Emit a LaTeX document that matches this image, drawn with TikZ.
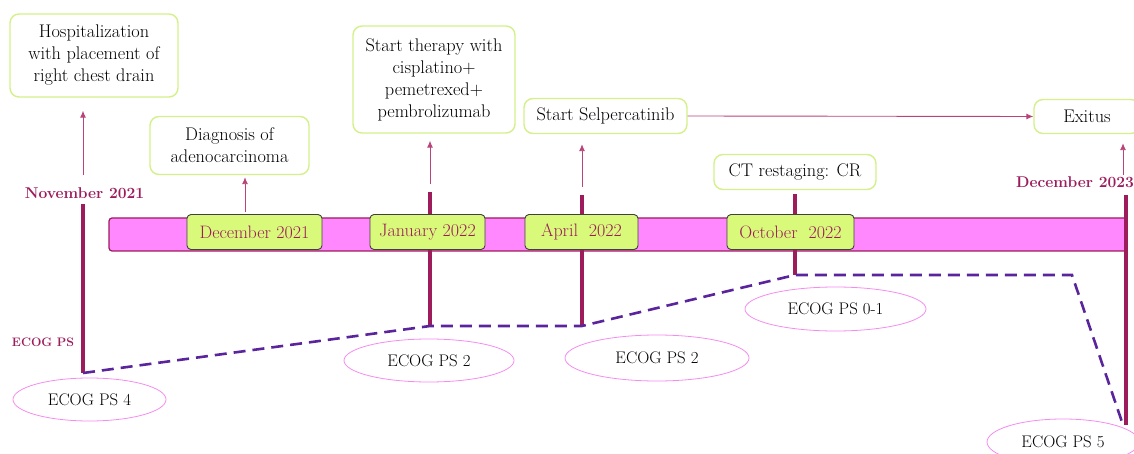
\documentclass[tikz,border=0pt]{standalone}
\usepackage{fontspec}
\usetikzlibrary{arrows.meta,shapes.geometric}
\definecolor{mag}{HTML}{9C1C5C}
\definecolor{thinmag}{HTML}{B8447A}
\definecolor{barpink}{HTML}{FF88FF}
\definecolor{lgreen}{HTML}{D4F08A}
\definecolor{datefill}{HTML}{D9F97A}
\definecolor{ellpink}{HTML}{F48CF0}
\definecolor{ecogc}{HTML}{5A249C}
\begin{document}
\begin{tikzpicture}[x=1pt,y=-1pt,
  eventbox/.style={draw=lgreen, line width=1.4pt, rounded corners=9pt, fill=white,
    align=center, inner sep=0pt, text=black, font=\fontsize{18.3}{22}\selectfont},
  datebox/.style={draw=black!75, line width=0.9pt, rounded corners=4pt, fill=datefill,
    inner sep=0pt, minimum height=35pt, text=mag, font=\fontsize{18}{20}\selectfont},
  ecogell/.style={ellipse, draw=ellpink, line width=0.8pt, inner sep=0pt,
    text=black, font=\fontsize{16.8}{18}\selectfont},
  yearlbl/.style={text=mag, font=\bfseries\fontsize{15.6}{18}\selectfont, inner sep=0pt},
  thickline/.style={draw=mag, line width=3.3pt},
  thinarrow/.style={draw=thinmag, line width=0.9pt, -{Latex[length=7pt,width=6pt]}},
  ecogline/.style={draw=ecogc, line width=2.6pt, dash pattern=on 12pt off 7pt},
  barstyle/.style={draw=mag, line width=1.2pt, rounded corners=3pt, fill=barpink}
]
\useasboundingbox (0,0) rectangle (1134,454);

% timeline bar
\draw[barstyle] (109,218) rectangle (1127,251);

% event boxes
\node[eventbox, minimum width=168pt, minimum height=83pt] (hosp) at (94,55.5)
  {Hospitalization\\with placement of\\right chest drain};
\node[eventbox, minimum width=159pt, minimum height=58pt] (diag) at (229.5,145.5)
  {Diagnosis of\\adenocarcinoma};
\node[eventbox, minimum width=162pt, minimum height=107pt] (ther) at (434,79.5)
  {Start therapy with\\cisplatino+\\pemetrexed+\\pembrolizumab};
\node[eventbox, minimum width=163pt, minimum height=35pt] (selp) at (605.5,116)
  {Start Selpercatinib};
\node[eventbox, minimum width=162pt, minimum height=35pt] (ct) at (795,172)
  {CT restaging: CR};
\node[eventbox, minimum width=106pt, minimum height=34pt] (exit) at (1087,116.5)
  {Exitus};

% year labels
\node[yearlbl] (nov) at (84.5,193) {November 2021};
\node[yearlbl] (dec23) at (1075,182) {December 2023};
\node[text=mag, font=\bfseries\fontsize{12.3}{14}\selectfont, inner sep=0pt] (ecoglbl) at (43,342) {ECOG PS};

% coordinates
\coordinate (novtop) at (83,204);
\coordinate (e0) at (83,373);
\coordinate (jtop) at (430,192);
\coordinate (jbot) at (430,326);
\coordinate (atop) at (582,195);
\coordinate (abot) at (582,326);
\coordinate (otop) at (795,194);
\coordinate (obot) at (795,275);
\coordinate (c5) at (1072,275);
\coordinate (dend) at (1122,422);
\coordinate (dtop) at (1126,195);
\coordinate (dbot) at (1126,425);

\coordinate (a1) at (83,175);
\coordinate (a2) at (245,212);
\coordinate (a3) at (430,184);
\coordinate (a4) at (582,187);
\coordinate (a5) at (1123,175);

% thin arrows
\draw[thinarrow, shorten >=13pt] (a1) -- (a1 |- hosp.south);
\draw[thinarrow, shorten >=2pt] (a2) -- (a2 |- diag.south);
\draw[thinarrow, shorten >=7pt] (a3) -- (a3 |- ther.south);
\draw[thinarrow, shorten >=10pt] (a4) -- (a4 |- selp.south);
\draw[thinarrow, shorten >=9pt] (a5) -- (a5 |- exit.south);
\draw[thinarrow] (selp.east) -- (exit.west);

% thick vertical lines
\draw[thickline] (novtop) -- (e0);
\draw[thickline] (jtop) -- (jbot);
\draw[thickline] (atop) -- (abot);
\draw[thickline] (otop) -- (obot);
\draw[thickline] (dtop) -- (dbot);

% date boxes
\node[datebox, minimum width=135pt] (d1) at (254.5,232) {December 2021};
\node[datebox, minimum width=115pt] (d2) at (427.5,232) {January 2022};
\node[datebox, minimum width=113pt] (d3) at (581.5,232) {April~~2022};
\node[datebox, minimum width=127pt] (d4) at (790.5,232) {October~~2022};

% ECOG line
\draw[ecogline] (e0) -- (jbot) -- (abot) -- (obot) -- (c5) -- (dend);

% ECOG ellipses
\node[ecogell, minimum width=153pt, minimum height=43pt] (p4) at (89.5,399.5) {ECOG PS 4};
\node[ecogell, minimum width=170pt, minimum height=43pt] (p2a) at (429,360.5) {ECOG PS 2};
\node[ecogell, minimum width=184pt, minimum height=46pt] (p2b) at (657,358) {ECOG PS 2};
\node[ecogell, minimum width=181pt, minimum height=44pt] (p01) at (835.5,309) {ECOG PS 0-1};
\node[ecogell, minimum width=152pt, minimum height=46pt] (p5) at (1063,442) {ECOG PS 5};
\end{tikzpicture}
\end{document}
